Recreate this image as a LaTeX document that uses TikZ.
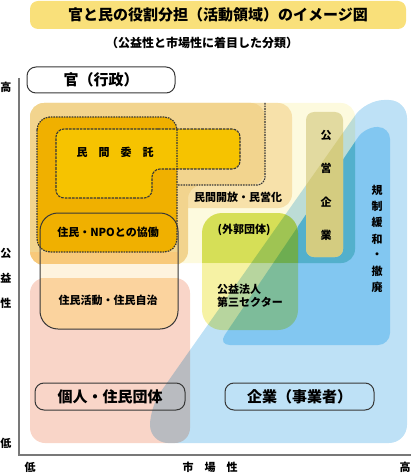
\documentclass[tikz,border=0pt]{standalone}
\usepackage{fontspec}
\setmainfont{Noto Sans CJK JP}
\newcommand\myfs[1]{\fontsize{#1pt}{#1pt}\selectfont}
\definecolor{titley}{RGB}{249,224,122}
\definecolor{cream}{RGB}{253,250,222}
\definecolor{tanL}{RGB}{247,225,170}
\definecolor{tanD}{RGB}{242,212,142}
\definecolor{orgA}{RGB}{240,176,0}
\definecolor{yelB}{RGB}{246,195,0}
\definecolor{lorange}{RGB}{248,201,122}
\definecolor{pale}{RGB}{254,243,222}
\definecolor{peach}{RGB}{251,211,158}
\definecolor{pinkR}{RGB}{249,213,200}
\definecolor{lblue}{RGB}{190,225,246}
\definecolor{dbm}{RGB}{175,226,250}
\definecolor{tealx}{RGB}{165,232,250}
\definecolor{grnT}{RGB}{216,228,100}
\definecolor{grnB}{RGB}{246,242,164}
\definecolor{khakiA}{RGB}{226,218,160}
\definecolor{khakiB}{RGB}{212,204,128}
\definecolor{axisg}{RGB}{120,120,120}
\definecolor{linek}{RGB}{55,55,55}
\tikzset{
  lbl/.style={inner sep=0pt, font=\myfs{11}\bfseries, text=black},
  boxlbl/.style={inner sep=0pt, font=\myfs{15}\bfseries, text=black},
  rbox/.style={draw=linek, line width=1pt, rounded corners=9pt, inner sep=0pt},
  dotline/.style={draw=linek, line width=1.2pt, dash pattern=on 1.6pt off 1pt},
  dashline/.style={draw=linek, line width=1.1pt, dash pattern=on 2.6pt off 1pt},
}
\def\LBpath{(280,443) -- (407,443) -- (407,100) -- (366,100) -- (150,407) -- (150,443) -- cycle}
\def\DBpath{(300,345) -- (390,345) -- (390,127) -- (365,127) -- (218,345) -- cycle}
\begin{document}
\begin{tikzpicture}[x=1pt,y=-1pt]
\useasboundingbox (0,0) rectangle (414,473);
% title
\fill[titley, rounded corners=8pt] (30,1) rectangle (406,29);
\node[boxlbl] (title) at (218,15) {官と民の役割分担（活動領域）のイメージ図};
\node[inner sep=0pt, font=\myfs{12}\bfseries] (sub) at (202,43) {（公益性と市場性に着目した分類）};
% base regions
\fill[cream, rounded corners=14pt] (30,103) rectangle (355,263);
\fill[tanL, rounded corners=14pt] (30,103) rectangle (292,208);
\begin{scope}
  \clip[rounded corners=14pt] (30,103) -- (265,103) -- (265,185) -- (188,185) -- (188,265) -- (30,265) -- cycle;
  \fill[tanD] (0,90) rectangle (300,270);
  \fill[lorange] (0,252) rectangle (178,270);
\end{scope}
\fill[orgA, rounded corners=13pt] (37,117) rectangle (177,252);
\fill[yelB, rounded corners=8pt] (150,129) -- (240,129) -- (240,169) -- (152,169) -- (152,198) -- (56,198) -- (56,129) -- cycle;
% pink
\fill[pinkR, rounded corners=15pt] (30,278) rectangle (190,443);
% resident box interior
\begin{scope}
  \clip[rounded corners=18pt] (40,213) rectangle (178,329);
  \fill[pale] (30,264) rectangle (190,278);
  \fill[peach] (30,278) rectangle (190,340);
\end{scope}
% blue bands
\begin{scope}[blend mode=multiply]
  \fill[lblue, rounded corners=18pt] \LBpath;
  \fill[dbm, rounded corners=12pt] \DBpath;
\end{scope}
\begin{scope}[blend mode=multiply]
  \clip (298,100) rectangle (360,270);
  \clip[rounded corners=14pt] (30,103) rectangle (355,263);
  \fill[tealx, rounded corners=12pt] \DBpath;
\end{scope}
% green box
\begin{scope}[blend mode=multiply]
  \clip[rounded corners=20pt] (202,213) rectangle (298,330);
  \fill[grnT] (200,210) rectangle (300,263);
  \fill[grnB] (200,263) rectangle (300,332);
\end{scope}
% khaki box
\fill[khakiA, rounded corners=8pt] (306,112) rectangle (343,257);
\begin{scope}
  \clip[rounded corners=8pt] (306,112) rectangle (343,257);
  \fill[khakiB, rounded corners=18pt] \LBpath;
\end{scope}
% outlines
\draw[dotline, rounded corners=13pt] (37,117) rectangle (177,252);
\draw[dotline, rounded corners=8pt] (265,103) -- (265,185) -- (177,185);
\draw[dashline, rounded corners=8pt] (150,129) -- (240,129) -- (240,169) -- (152,169) -- (152,198) -- (56,198) -- (56,129) -- cycle;
\draw[draw=linek, line width=1pt, rounded corners=18pt] (40,213) rectangle (178,329);
% axes
\draw[axisg, line width=1.5pt] (19,78) -- (19,455) -- (411,455);
% boxes with labels
\node[rbox, boxlbl, minimum width=148pt, minimum height=26pt] (gov) at (101,80) {官（行政）};
\node[rbox, boxlbl, minimum width=150pt, minimum height=27pt] (indiv) at (110,396.5) {個人・住民団体};
\node[rbox, boxlbl, minimum width=149pt, minimum height=27pt] (corp) at (299.5,396.5) {企業（事業者）};
% inner labels
\node[lbl] (itaku) at (115,152) {民　間　委　託};
\node[lbl] (kaiho) at (238,197) {民間開放・民営化};
\node[lbl] (kyodo) at (108,232) {住民・NPOとの協働};
\node[lbl] (jichi) at (108,300) {住民活動・住民自治};
\node[lbl] (gaikaku) at (244,230) {(外郭団体)};
\node[lbl, align=left, anchor=west, font=\fontsize{11pt}{12.5pt}\selectfont\bfseries] (koeki) at (217,296) {公益法人\\第三セクター};
% vertical labels
\node[lbl] (k1) at (326,135) {公};
\node[lbl] (k2) at (326,168) {営};
\node[lbl] (k3) at (326,202) {企};
\node[lbl] (k4) at (326,235) {業};
\node[lbl] (r1) at (377,190) {規};
\node[lbl] (r2) at (377,206.3) {制};
\node[lbl] (r3) at (377,222.6) {緩};
\node[lbl] (r4) at (377,238.9) {和};
\node[lbl] (r5) at (377,255.2) {・};
\node[lbl] (r6) at (377,271.5) {撤};
\node[lbl] (r7) at (377,287.8) {廃};
% axis labels
\node[lbl] (yhi) at (6,87) {高};
\node[lbl] (y1) at (6,253) {公};
\node[lbl] (y2) at (6,278) {益};
\node[lbl] (y3) at (6,303) {性};
\node[lbl] (ylo) at (6,443) {低};
\node[lbl] (xlo) at (30,467) {低};
\node[lbl] (xmid) at (210,467) {市　場　性};
\node[lbl] (xhi) at (405,467) {高};
\end{tikzpicture}
\end{document}
